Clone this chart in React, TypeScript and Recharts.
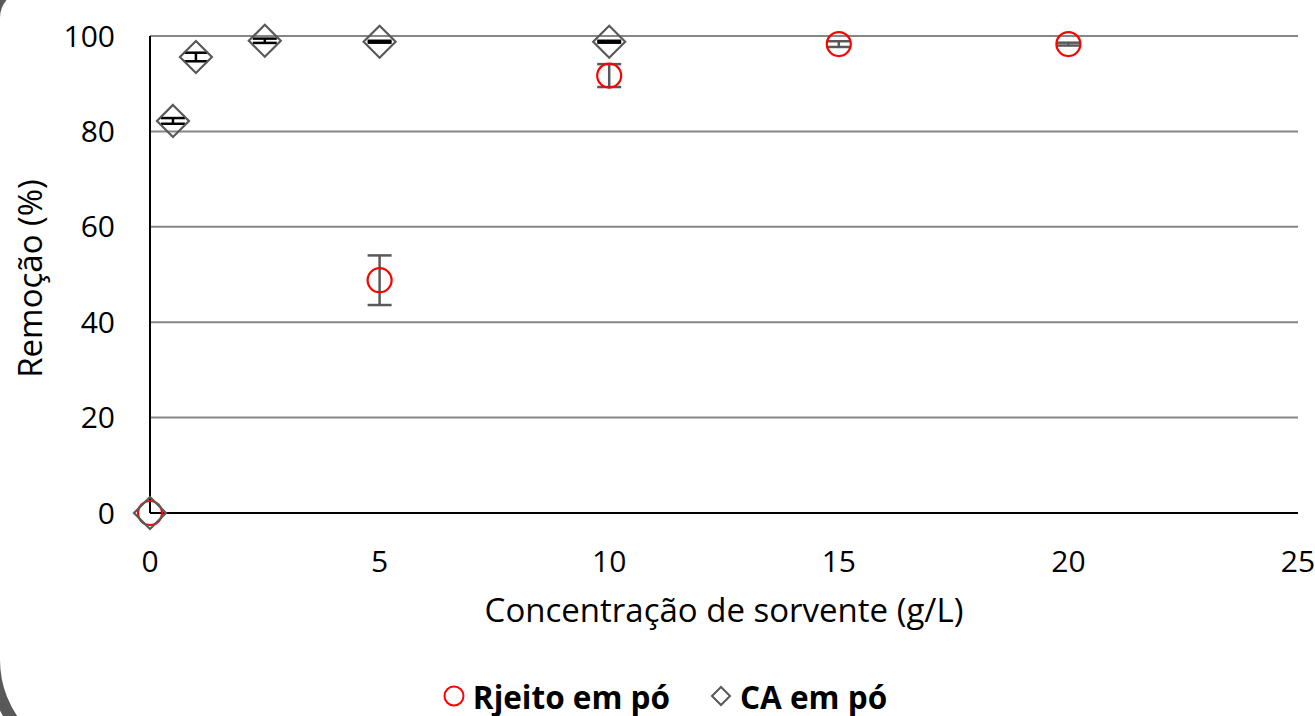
import React from "react";
import {
  ScatterChart,
  Scatter,
  XAxis,
  YAxis,
  CartesianGrid,
  ErrorBar,
  Legend,
} from "recharts";

/* dados ------------------------------------------------------------- */
const xTicks = [0, 5, 10, 15, 20, 25];
const yTicks = [0, 20, 40, 60, 80, 100];

const rjeitoX = [0, 5, 10, 15, 20];
const rjeitoY = [0, 48.8, 91.7, 98.3, 98.3];
const rjeitoErr = [0, 5.2, 2.4, 0.6, 0.3];

const caX = [0, 0.5, 1, 2.5, 5, 10];
const caY = [0, 82.2, 95.6, 99.0, 98.8, 98.8];
const caErr = [0, 0.6, 0.9, 0.45, 0.2, 0.2];

const seriesNames = ["Rjeito em pó", "CA em pó"];
const xLabel = "Concentração de sorvente (g/L)";
const yLabel = "Remoção (%)";

const rjeitoData = rjeitoX.map((x, i) => ({ x, y: rjeitoY[i], err: rjeitoErr[i] }));
const caData = caX.map((x, i) => ({ x, y: caY[i], err: caErr[i] }));

const FONT = "'Open Sans', sans-serif";

/* marcadores -------------------------------------------------------- */
const CircleMark = (p: any) => (
  <circle cx={p.cx} cy={p.cy} r={12} fill="none" stroke="#FF0000" strokeWidth={2.2} />
);

const DiamondMark = (p: any) => {
  const s = 16;
  return (
    <polygon
      points={`${p.cx},${p.cy - s} ${p.cx + s},${p.cy} ${p.cx},${p.cy + s} ${p.cx - s},${p.cy}`}
      fill="none"
      stroke="#595959"
      strokeWidth={2.2}
    />
  );
};

const LegendBox = () => (
  <div
    style={{
      height: 40,
      display: "flex",
      justifyContent: "center",
      alignItems: "center",
      paddingLeft: 32,
      fontFamily: FONT,
      fontWeight: 700,
      fontSize: 31.5,
      color: "#000",
    }}
  >
    <svg width={22} height={22} style={{ marginRight: 8 }}>
      <circle cx={11} cy={11} r={9.5} fill="none" stroke="#FF0000" strokeWidth={2} />
    </svg>
    <span style={{ marginRight: 40 }}>{seriesNames[0]}</span>
    <svg width={22} height={22} style={{ marginRight: 8 }}>
      <polygon points="11,2 20,11 11,20 2,11" fill="none" stroke="#595959" strokeWidth={2} />
    </svg>
    <span>{seriesNames[1]}</span>
  </div>
);

export default function App() {
  return (
    <div
      style={{
        position: "fixed",
        left: 0,
        top: 0,
        width: 1315,
        height: 716,
        overflow: "hidden",
        background: "#fff",
      }}
    >
      {/* moldura cinza (canto esquerdo) */}
      <div
        style={{
          position: "absolute",
          left: -12,
          top: -22,
          width: 1400,
          height: 794,
          boxSizing: "border-box",
          border: "12px solid #595959",
          borderTopLeftRadius: 40,
          borderBottomLeftRadius: 112,
        }}
      />
      <div style={{ position: "absolute", left: 0, top: 0 }}>
        <ScatterChart
          width={1315}
          height={716}
          margin={{ top: 36, right: 17, left: 0, bottom: 0 }}
        >
          <CartesianGrid vertical={false} stroke="#868686" strokeWidth={2} />
          <XAxis
            type="number"
            dataKey="x"
            domain={[0, 25]}
            ticks={xTicks}
            interval={0}
            height={163}
            tickSize={0}
            tickMargin={38}
            axisLine={{ stroke: "#000", strokeWidth: 2 }}
            tickLine={false}
            tick={{ fill: "#000", fontSize: 30, fontFamily: FONT }}
            label={({ viewBox }: any) => (
              <text
                x={viewBox.x + viewBox.width / 2}
                y={viewBox.y + 109}
                textAnchor="middle"
                fontSize={33}
                fontFamily={FONT}
                fill="#000"
              >
                {xLabel}
              </text>
            )}
          />
          <YAxis
            type="number"
            dataKey="y"
            domain={[0, 100]}
            ticks={yTicks}
            interval={0}
            width={150}
            tickSize={0}
            tickMargin={35}
            axisLine={{ stroke: "#000", strokeWidth: 2 }}
            tickLine={false}
            tick={{ fill: "#000", fontSize: 30, fontFamily: FONT }}
            label={({ viewBox }: any) => {
              const cx = 42;
              const cy = viewBox.y + viewBox.height / 2 + 4;
              return (
                <text
                  x={cx}
                  y={cy}
                  transform={`rotate(-90 ${cx} ${cy})`}
                  textAnchor="middle"
                  fontSize={33}
                  fontFamily={FONT}
                  fill="#000"
                >
                  {yLabel}
                </text>
              );
            }}
          />
          <Legend verticalAlign="bottom" align="center" content={() => <LegendBox />} />
          <Scatter
            name={seriesNames[0]}
            data={rjeitoData}
            shape={CircleMark}
            isAnimationActive={false}
          >
            <ErrorBar dataKey="err" direction="y" width={12} stroke="#595959" strokeWidth={2.5} />
          </Scatter>
          <Scatter
            name={seriesNames[1]}
            data={caData}
            shape={DiamondMark}
            isAnimationActive={false}
          >
            <ErrorBar dataKey="err" direction="y" width={12} stroke="#000" strokeWidth={2.5} />
          </Scatter>
        </ScatterChart>
      </div>
    </div>
  );
}
